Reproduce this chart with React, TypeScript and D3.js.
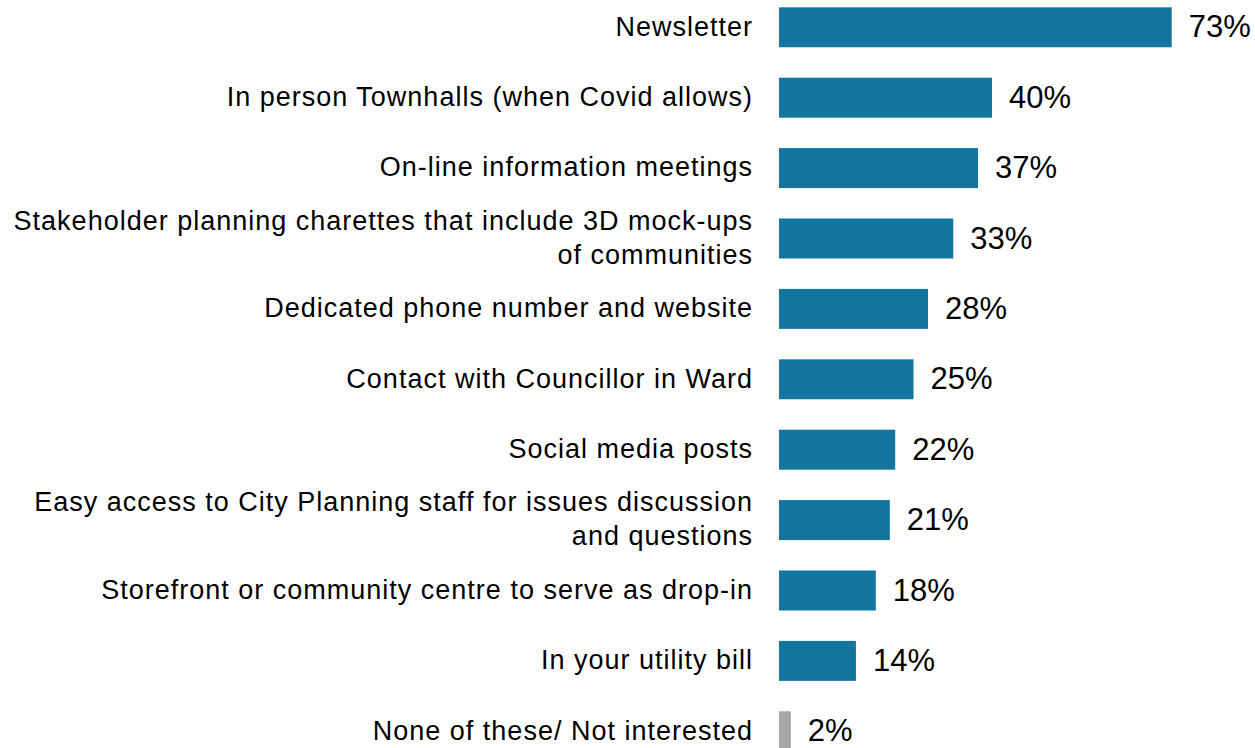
import React, { useEffect, useRef } from "react";
import * as d3 from "d3";

// categories (label lines) and values, top to bottom
const categories = [
  ["Newsletter"],
  ["In person Townhalls (when Covid allows)"],
  ["On-line information meetings"],
  ["Stakeholder planning charettes that include 3D mock-ups", "of communities"],
  ["Dedicated phone number and website"],
  ["Contact with Councillor in Ward"],
  ["Social media posts"],
  ["Easy access to City Planning staff for issues discussion", "and questions"],
  ["Storefront or community centre to serve as drop-in"],
  ["In your utility bill"],
  ["None of these/ Not interested"],
];
// bar lengths (unrounded)
const values = [73, 39.6, 37, 32.4, 27.7, 25, 21.6, 20.6, 18, 14.3, 2.2];
// printed percentages
const valueLabels = ["73%", "40%", "37%", "33%", "28%", "25%", "22%", "21%", "18%", "14%", "2%"];
const grey = [false, false, false, false, false, false, false, false, false, false, true];

function App() {
  const svgRef = useRef<SVGSVGElement>(null);

  useEffect(() => {
    const width = 1255;
    const height = 748;
    const svg = d3.select(svgRef.current).attr("width", width).attr("height", height);
    svg.selectAll("*").remove();

    const keys = categories.map((c) => c.join(" "));

    // rows
    const y = d3
      .scaleBand<string>()
      .domain(keys)
      .range([-7.9, -7.9 + 70.4 * keys.length])
      .paddingInner(0.432)
      .paddingOuter(0.216);

    // bar length
    const x = d3.scaleLinear().domain([0, 73]).range([779, 1171.7]);

    const font = "'Liberation Sans', Arial, sans-serif";

    const rows = svg
      .selectAll("g.row")
      .data(values)
      .join("g")
      .attr("class", "row");

    rows
      .append("rect")
      .attr("x", x(0))
      .attr("y", (d, i) => y(keys[i])!)
      .attr("width", (d) => x(d) - x(0))
      .attr("height", y.bandwidth())
      .attr("fill", (d, i) => (grey[i] ? "#a6a6a6" : "#14769f"));

    rows
      .append("text")
      .attr("x", (d) => x(d) + 17)
      .attr("y", (d, i) => y(keys[i])! + y.bandwidth() / 2 - 1)
      .attr("dy", "0.36em")
      .attr("font-family", font)
      .attr("font-size", 31)
      .attr("fill", "#000")
      .text((d, i) => valueLabels[i]);

    // category labels
    rows.each(function (d, i) {
      const lines = categories[i];
      const cy = y(keys[i])! + y.bandwidth() / 2 - 1.5;
      const lh = 34;
      const t = d3
        .select(this)
        .append("text")
        .attr("text-anchor", "end")
        .attr("font-family", font)
        .attr("font-size", 27)
        .attr("letter-spacing", 1)
        .attr("fill", "#000");
      lines.forEach((line, j) => {
        t.append("tspan")
          .attr("x", 753)
          .attr("y", cy + (j - (lines.length - 1) / 2) * lh)
          .attr("dy", "0.36em")
          .text(line);
      });
    });
  }, []);

  return (
    <div>
      <svg ref={svgRef} style={{ position: "absolute", left: 0, top: 0, background: "#fff" }}></svg>
    </div>
  );
}

export default App;
